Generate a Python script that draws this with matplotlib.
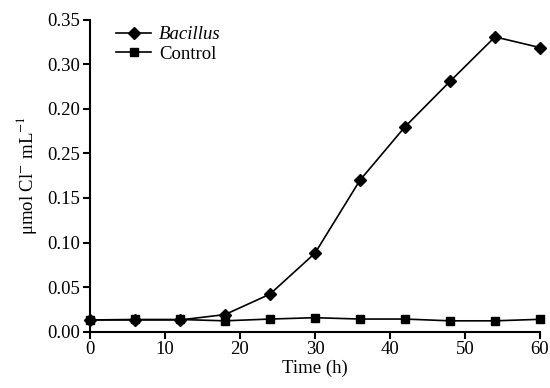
import numpy as np
import matplotlib
matplotlib.use('Agg')
import matplotlib.pyplot as plt

plt.rcParams['font.family'] = ['Liberation Serif', 'DejaVu Serif']
plt.rcParams['mathtext.fontset'] = 'stix'

time_h = [0, 6, 12, 18, 24, 30, 36, 42, 48, 54, 60]
bacillus = [0.013, 0.013, 0.013, 0.019, 0.042, 0.088, 0.170, 0.230, 0.281, 0.331, 0.319]
control = [0.013, 0.0135, 0.0135, 0.012, 0.014, 0.0155, 0.014, 0.014, 0.012, 0.012, 0.0137]

x_ticks = [0, 10, 20, 30, 40, 50, 60]
y_ticks = [0.00, 0.05, 0.10, 0.15, 0.20, 0.25, 0.30, 0.35]
# labels as printed in the original (0.20 / 0.25 swapped)
y_tick_labels = ['0.00', '0.05', '0.10', '0.15', '0.25', '0.20', '0.30', '0.35']

fs = 13.5

fig = plt.figure(figsize=(5.5, 3.88), dpi=100)
ax = fig.add_axes([0.1636, 0.1456, 0.8182, 0.8029])

ax.plot(time_h, bacillus, color='black', lw=1.2, marker='D', ms=6,
        label='Bacillus', clip_on=False, zorder=3)
ax.plot(time_h, control, color='black', lw=1.2, marker='s', ms=6,
        label='Control', clip_on=False, zorder=3)

ax.set_xlim(0, 60)
ax.set_ylim(0, 0.35)
ax.set_xticks(x_ticks)
ax.set_yticks(y_ticks)
ax.set_yticklabels(y_tick_labels)

for s in ['top', 'right']:
    ax.spines[s].set_visible(False)
for s in ['left', 'bottom']:
    ax.spines[s].set_linewidth(1.5)
ax.tick_params(direction='out', length=5, width=1.5, labelsize=fs, pad=2)

ax.set_xlabel('Time (h)', fontsize=fs, labelpad=1)
ax.set_ylabel('μmol Cl$^{-}$ mL$^{-1}$', fontsize=fs, labelpad=6)

leg = ax.legend(loc='upper left', bbox_to_anchor=(0.02, 1.035), frameon=False,
                fontsize=fs, handlelength=1.9, handletextpad=0.4,
                labelspacing=0.15)
for t in leg.get_texts():
    if t.get_text() == 'Bacillus':
        t.set_fontstyle('italic')

fig.savefig('out.png', dpi=100)
